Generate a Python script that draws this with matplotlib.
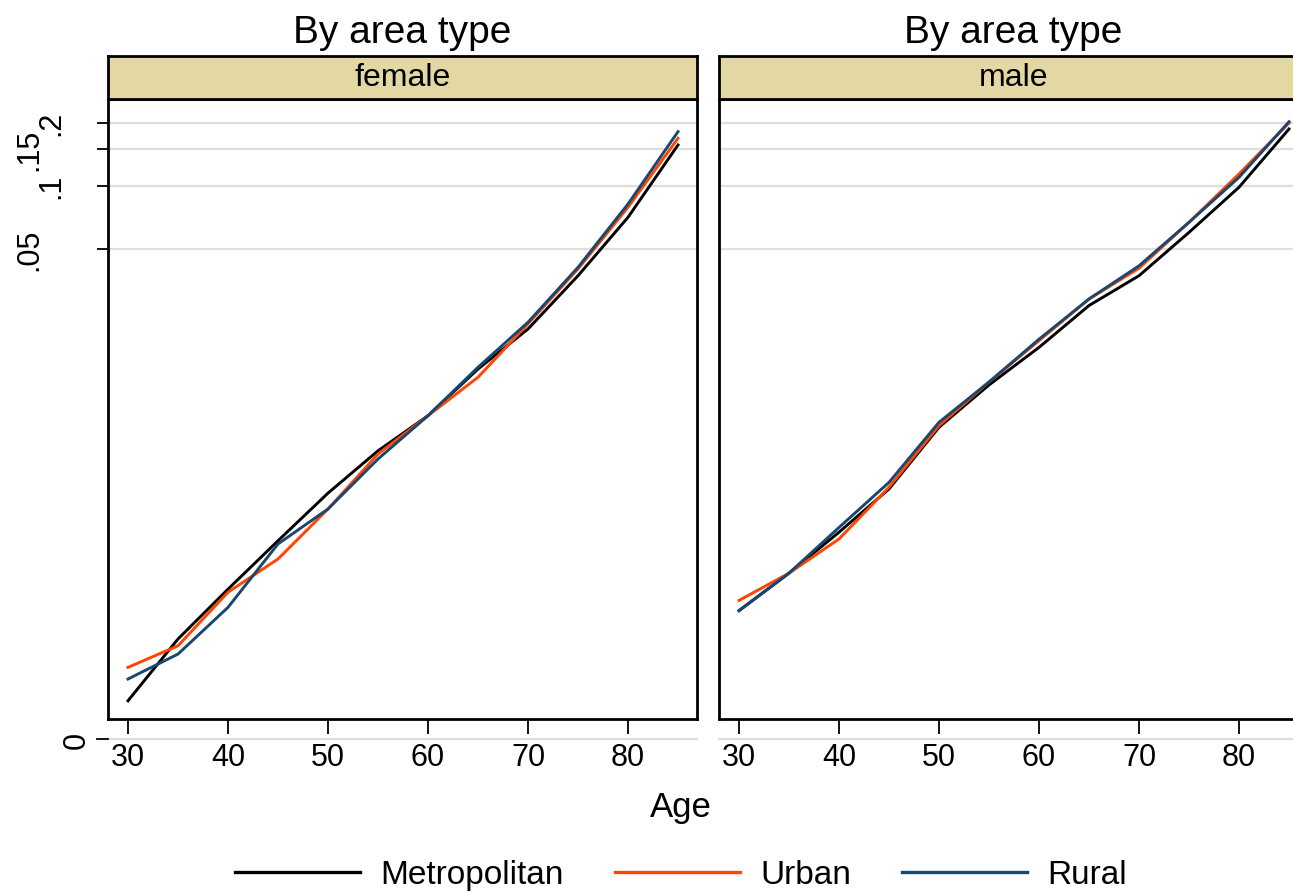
import numpy as np
import matplotlib.pyplot as plt
from matplotlib.ticker import NullLocator

plt.rcParams['font.family'] = ['Liberation Sans', 'DejaVu Sans']

# rates by age, one list per area type and sex
ages = [30, 35, 40, 45, 50, 55, 60, 65, 70, 75, 80, 85]

female_metro = [0.000353, 0.000695, 0.00120, 0.00204, 0.00344, 0.00547,
                0.00804, 0.01341, 0.0208, 0.0373, 0.0708, 0.1564]
female_urban = [0.000509, 0.000645, 0.00116, 0.00167, 0.00289, 0.00528,
                0.00804, 0.01225, 0.0220, 0.0402, 0.0790, 0.1683]
female_rural = [0.000448, 0.000589, 0.000983, 0.00197, 0.00289, 0.00500,
                0.00804, 0.01367, 0.0224, 0.0409, 0.0819, 0.1810]

male_metro = [0.000948, 0.00143, 0.00224, 0.00360, 0.00708, 0.01126,
              0.0170, 0.0269, 0.0373, 0.0600, 0.0984, 0.1864]
male_urban = [0.00106, 0.00143, 0.00208, 0.00367, 0.00721, 0.01163,
              0.0183, 0.0289, 0.0405, 0.0670, 0.1138, 0.1991]
male_rural = [0.000948, 0.00143, 0.00236, 0.00387, 0.00748, 0.01163,
              0.0186, 0.0289, 0.0416, 0.0670, 0.1097, 0.2019]

series_names = ['Metropolitan', 'Urban', 'Rural']
series_colors = ['#000000', '#ff4500', '#1a476f']
panels = [('female', [female_metro, female_urban, female_rural]),
          ('male', [male_metro, male_urban, male_rural])]

y_ticks = [0.05, 0.1, 0.15, 0.2]
y_labels = ['.05', '.1', '.15', '.2']
y_label_off = [-46, -30, -46, -30]   # labels staggered (points)
y_zero = 0.000232                    # position of the "0" label
x_ticks = [30, 40, 50, 60, 70, 80]

W, H = 1293, 895
def box(x0, y0, x1, y1):
    return [x0 / W, 1 - y1 / H, (x1 - x0) / W, (y1 - y0) / H]

fig = plt.figure(figsize=(W / 100, H / 100), dpi=100)
grid_col = '#dedede'

plot_boxes = [box(108, 100, 697, 720), box(719, 100, 1308, 720)]
strip_boxes = [box(108, 57, 697, 100), box(719, 57, 1308, 100)]

lines = []
for i, (sex, data) in enumerate(panels):
    ax = fig.add_axes(plot_boxes[i])
    for vals, name, col in zip(data, series_names, series_colors):
        ln, = ax.plot(ages, vals, color=col, lw=2.1, label=name, zorder=3)
        if i == 0:
            lines.append(ln)
    ax.set_yscale('log')
    ax.set_ylim(0.000289, 0.259)
    ax.set_xlim(28, 86.9)
    ax.set_yticks(y_ticks)
    ax.set_yticklabels([])
    ax.yaxis.set_minor_locator(NullLocator())
    ax.grid(axis='y', color=grid_col, lw=1.6, zorder=0)
    ax.set_axisbelow(True)
    ax.set_xticks(x_ticks)
    ax.tick_params(axis='x', labelsize=22, length=10.8, width=1.3, pad=6)
    for s in ax.spines.values():
        s.set_linewidth(2)
    # gridline for the zero label sits below the frame
    ax.plot([0, 1], [y_zero, y_zero], transform=ax.get_yaxis_transform(),
            color=grid_col, lw=1.6, clip_on=False, zorder=0)
    if i == 0:
        ax.tick_params(axis='y', length=8, width=1.3)
        for v, lab, off in zip(y_ticks, y_labels, y_label_off):
            ax.annotate(lab, xy=(0, v), xycoords=ax.get_yaxis_transform(),
                        xytext=(off, 0), textcoords='offset points',
                        rotation=90, ha='right', va='center', fontsize=22)
        ax.plot([-0.0187, 0], [y_zero, y_zero],
                transform=ax.get_yaxis_transform(), color='black', lw=1.3,
                clip_on=False)
        ax.annotate('0', xy=(0, y_zero), xycoords=ax.get_yaxis_transform(),
                    xytext=(-12, 0), textcoords='offset points',
                    rotation=90, ha='right', va='center', fontsize=22)
    else:
        ax.tick_params(axis='y', length=0)

    sx = fig.add_axes(strip_boxes[i])
    sx.set_facecolor('#e3d8a3')
    sx.set_xticks([])
    sx.set_yticks([])
    for s in sx.spines.values():
        s.set_linewidth(2)
    sx.text(0.5, 0.5, sex, ha='center', va='center', fontsize=23,
            transform=sx.transAxes)
    sx.set_title('By area type', fontsize=28, pad=10)

fig.text(681 / W, 1 - 817 / H, 'Age', ha='center', va='baseline',
         fontsize=25)

leg = fig.legend(lines, series_names, loc='center', ncol=3,
                 bbox_to_anchor=(681 / W, 19 / H), frameon=False,
                 fontsize=24, handlelength=3.75, handletextpad=0.6,
                 columnspacing=1.55)
for h in leg.get_lines():
    h.set_linewidth(2.4)

fig.savefig('out.png', dpi=100)
